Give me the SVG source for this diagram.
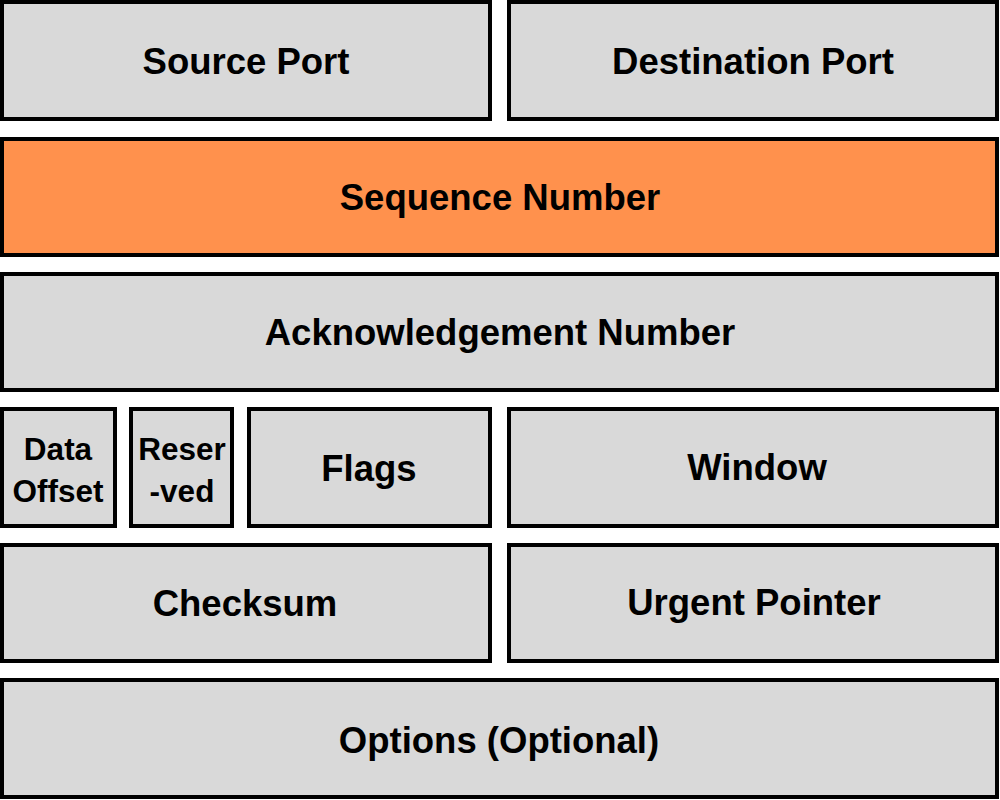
<svg xmlns="http://www.w3.org/2000/svg" width="1000" height="800" viewBox="0 0 1000 800">
<style>
.box{fill:#d9d9d9;stroke:#000;stroke-width:4}
.hl{fill:#ff914d}
.t{font-family:"Liberation Sans",Arial,sans-serif;font-weight:bold;font-size:36.5px;fill:#000;text-anchor:middle}
.s{font-size:31.5px}
</style>
<rect width="1000" height="800" fill="#fff"/>
<g id="source-port"><rect class="box" x="2" y="2" width="488" height="117"/><text class="t" x="246" y="74">Source Port</text></g>
<g id="destination-port"><rect class="box" x="509" y="2" width="488" height="117"/><text class="t" x="753" y="74">Destination Port</text></g>
<g id="sequence-number"><rect class="box hl" x="2" y="139" width="995" height="116"/><text class="t" x="500" y="210">Sequence Number</text></g>
<g id="acknowledgement-number"><rect class="box" x="2" y="274" width="995" height="116"/><text class="t" x="500" y="345">Acknowledgement Number</text></g>
<g id="data-offset"><rect class="box" x="2" y="409" width="113" height="117"/><text class="t s" x="58" y="460">Data</text><text class="t s" x="58" y="502">Offset</text></g>
<g id="reserved"><rect class="box" x="131" y="409" width="101" height="117"/><text class="t s" x="182" y="460">Reser</text><text class="t s" x="182" y="502">-ved</text></g>
<g id="flags"><rect class="box" x="249" y="409" width="241" height="117"/><text class="t" x="369" y="481">Flags</text></g>
<g id="window"><rect class="box" x="509" y="409" width="488" height="117"/><text class="t" x="757" y="480">Window</text></g>
<g id="checksum"><rect class="box" x="2" y="545" width="488" height="116"/><text class="t" x="245" y="616">Checksum</text></g>
<g id="urgent-pointer"><rect class="box" x="509" y="545" width="488" height="116"/><text class="t" x="754" y="615">Urgent Pointer</text></g>
<g id="options"><rect class="box" x="2" y="680" width="995" height="117"/><text class="t" x="499" y="753">Options (Optional)</text></g>
<g id="connectors"></g>
</svg>
